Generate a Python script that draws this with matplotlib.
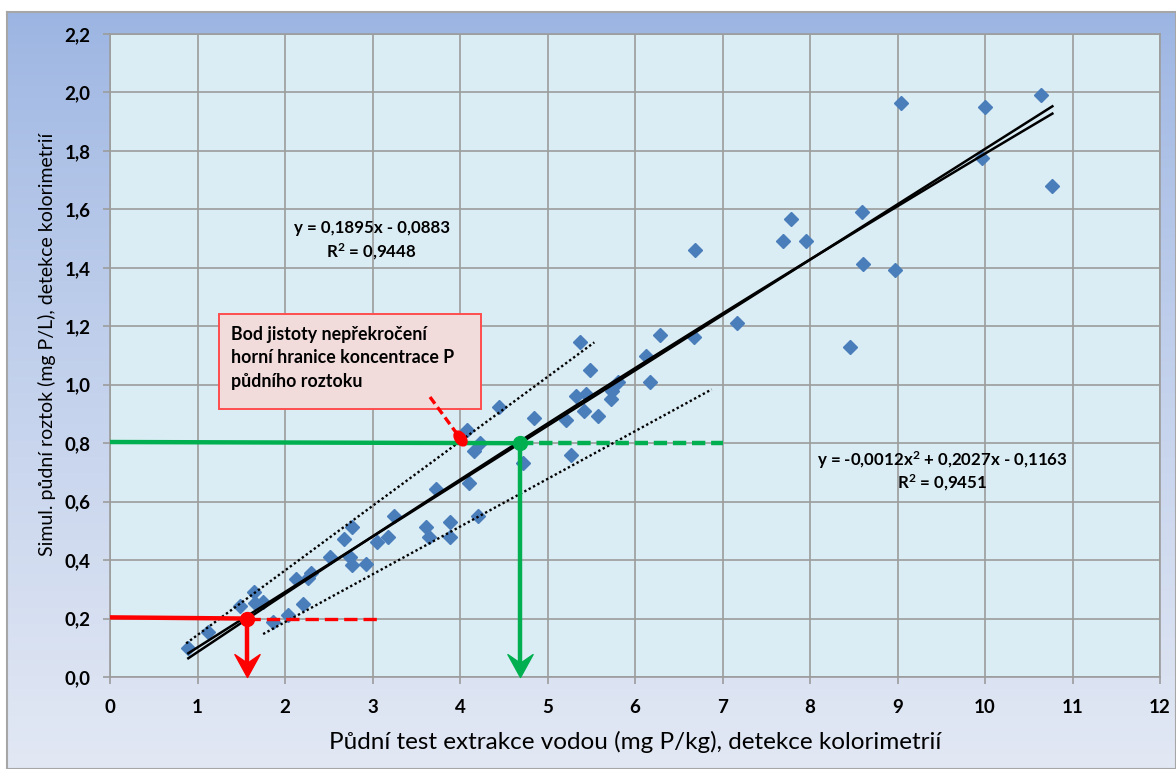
import numpy as np
import matplotlib
matplotlib.use("Agg")
import matplotlib.pyplot as plt
from matplotlib.markers import MarkerStyle
from matplotlib.transforms import Affine2D
from matplotlib.path import Path
from matplotlib.patches import Rectangle

# ---------------- data ----------------
x_vals = [0.895, 1.12, 1.49, 1.646, 1.657, 1.745, 1.867, 2.038, 2.20, 2.12, 2.26, 2.30,
          2.514, 2.674, 2.76, 2.74, 2.77, 2.93, 3.05, 3.18, 3.25, 3.61, 3.64, 3.73,
          3.88, 3.89, 4.107, 4.20, 4.08, 4.16, 4.23, 4.45, 4.84, 4.72, 5.27, 5.21,
          5.37, 5.49, 5.33, 5.44, 5.42, 5.58, 5.73, 5.74, 5.80, 6.12, 6.17, 6.29,
          6.67, 7.16, 6.68, 7.69, 7.78, 7.95, 8.46, 8.59, 8.60, 8.975, 9.04, 10.0,
          9.97, 10.64, 10.77]
y_vals = [0.098, 0.155, 0.243, 0.290, 0.254, 0.258, 0.187, 0.212, 0.250, 0.334, 0.340, 0.355,
          0.410, 0.471, 0.512, 0.412, 0.383, 0.385, 0.463, 0.478, 0.551, 0.512, 0.478, 0.644,
          0.529, 0.480, 0.663, 0.551, 0.845, 0.774, 0.800, 0.925, 0.885, 0.731, 0.759, 0.879,
          1.147, 1.050, 0.961, 0.968, 0.910, 0.893, 0.950, 0.980, 1.010, 1.100, 1.010, 1.170,
          1.164, 1.210, 1.461, 1.492, 1.567, 1.493, 1.128, 1.590, 1.414, 1.391, 1.963, 1.951,
          1.777, 1.992, 1.680]

lin_coef = [0.1895, -0.0883]            # y = a x + b
poly_coef = [-0.0012, 0.2027, -0.1163]  # y = a x^2 + b x + c
lin_eq = "y = 0,1895x - 0,0883"
lin_r2 = "R$^2$ = 0,9448"
poly_eq = "y = -0,0012x$^2$ + 0,2027x - 0,1163"
poly_r2 = "R$^2$ = 0,9451"

# confidence band (dotted) end points
upper_band_x = [0.87, 5.535]
upper_band_y = [0.115, 1.145]
lower_band_x = [1.75, 6.876]
lower_band_y = [0.147, 0.984]

# threshold construction
green_y = 0.80
green_x = 4.69
green_dash_end = 7.0
red_y = 0.20
red_x = 1.57
red_dash_end = 3.07

x_ticks = list(range(0, 13))
y_ticks = [0.0, 0.2, 0.4, 0.6, 0.8, 1.0, 1.2, 1.4, 1.6, 1.8, 2.0, 2.2]
y_tick_labels = ["0,0", "0,2", "0,4", "0,6", "0,8", "1,0", "1,2", "1,4", "1,6", "1,8", "2,0", "2,2"]

x_label = "Půdní test extrakce vodou (mg P/kg), detekce kolorimetrií"
y_label = "Simul. půdní roztok (mg P/L), detekce kolorimetrií"
note_lines = ["Bod jistoty nepřekročení", "horní hranice koncentrace P", "půdního roztoku"]

FONT = ["Lato", "DejaVu Sans"]
plt.rcParams["font.family"] = FONT
plt.rcParams["mathtext.fontset"] = "custom"
plt.rcParams["mathtext.rm"] = "Lato:bold"
plt.rcParams["mathtext.it"] = "Lato:bold"
plt.rcParams["mathtext.bf"] = "Lato:bold"

W, H = 1176, 769
fig = plt.figure(figsize=(W / 100, H / 100), dpi=100)
fig.patch.set_facecolor("white")

# background gradient panel
bg = fig.add_axes([7 / W, 0, 1 - 7 / W, 1 - 12 / H])
grad = np.linspace(0, 1, 256).reshape(-1, 1)
top = np.array([0x9b, 0xb4, 0xe2]) / 255
bot = np.array([0xe2, 0xe8, 0xf4]) / 255
g = grad ** 0.8
img = top[None, None, :] * (1 - g[:, :, None]) + bot[None, None, :] * g[:, :, None]
bg.imshow(img, aspect="auto", extent=[0, 1, 0, 1], origin="upper")
bg.set_xticks([]); bg.set_yticks([])
for s in bg.spines.values():
    s.set_color("#a6a6a6"); s.set_linewidth(1.5)
bg.set_zorder(0)

# main axes
L, R, T, B = 110, 1160, 34, 677
ax = fig.add_axes([L / W, 1 - B / H, (R - L) / W, (B - T) / H])
ax.set_zorder(1)
ax.set_facecolor("#dbedf4")
ax.set_xlim(0, 12)
ax.set_ylim(0, 2.2)
ax.set_xticks(x_ticks)
ax.set_xticklabels([str(t) for t in x_ticks])
ax.set_yticks(y_ticks)
ax.set_yticklabels(y_tick_labels)
ax.grid(True, color="#9c9c9c", linewidth=1.2)
ax.set_axisbelow(True)
for s in ax.spines.values():
    s.set_color("#9c9c9c"); s.set_linewidth(1.2)
ax.tick_params(axis="both", length=5, color="#9c9c9c", width=1.2, labelsize=13.5)
ax.tick_params(axis="y", pad=9)
ax.tick_params(axis="x", pad=11)
for lab in ax.get_xticklabels() + ax.get_yticklabels():
    lab.set_fontweight("bold")

# scatter
ax.plot(x_vals, y_vals, linestyle="none", marker="D", ms=6.8,
        color="#4a7ebb", zorder=3)

# trend lines over the data range
xs = np.linspace(min(x_vals), max(x_vals), 200)
ax.plot(xs, np.polyval(lin_coef, xs), color="black", lw=1.8, zorder=4)
ax.plot(xs, np.polyval(poly_coef, xs), color="black", lw=1.8, zorder=4)

# dotted bands
ax.plot(upper_band_x, upper_band_y, color="black", lw=1.7, linestyle=(0, (1, 1.1)), zorder=4)
ax.plot(lower_band_x, lower_band_y, color="black", lw=1.7, linestyle=(0, (1, 1.1)), zorder=4)

GREEN = "#00b050"
RED = "#ff0000"
head = Path([(0, 0), (-0.55, 1.0), (0, 0.62), (0.55, 1.0), (0, 0)],
            [Path.MOVETO, Path.LINETO, Path.LINETO, Path.LINETO, Path.CLOSEPOLY])

# green construction
ax.plot([0, green_x], [green_y + 0.004, green_y], color=GREEN, lw=3.2, zorder=5,
        solid_capstyle="butt")
ax.plot([green_x, green_dash_end], [green_y, green_y], color=GREEN, lw=3.2,
        linestyle=(0, (3, 1.3)), zorder=5)
ax.plot([green_x, green_x], [green_y, 0.05], color=GREEN, lw=3.2, zorder=5)
ax.plot([green_x], [0.0], marker=head, ms=33, color=GREEN, zorder=6, clip_on=False)
ax.plot([green_x], [green_y], marker="o", ms=10, color=GREEN, zorder=6)

# red construction
ax.plot([0, red_x], [red_y + 0.004, red_y], color=RED, lw=3.2, zorder=5)
ax.plot([red_x, red_dash_end], [red_y, red_y], color=RED, lw=2.4,
        linestyle=(0, (4, 1.8)), zorder=5)
ax.plot([red_x, red_x], [red_y, 0.05], color=RED, lw=3.2, zorder=5)
ax.plot([red_x], [0.0], marker=head, ms=33, color=RED, zorder=6, clip_on=False)
ax.plot([red_x], [red_y], marker="o", ms=10, color=RED, zorder=6)

# annotation box
ax.add_patch(Rectangle((1.246, 0.917), 4.236 - 1.246, 1.241 - 0.917,
                       facecolor="#f2dcdb", edgecolor="#ff4d4d", lw=1.4, zorder=7))
for i, line in enumerate(note_lines):
    ax.text(1.383, 1.172 - i * 0.08, line, fontsize=12.8, fontweight="bold",
            ha="left", va="center", color="black", zorder=8)
ax.plot([3.657, 4.0], [0.958, 0.818], color=RED, lw=2.4, linestyle=(0, (2.5, 1.3)), zorder=7)
oval = MarkerStyle("o", transform=Affine2D().scale(1.5, 0.95).rotate_deg(-54))
ax.plot([4.0], [0.818], marker=oval, ms=8, color=RED, zorder=7)

# equations
ax.text(2.99, 1.536, lin_eq, fontsize=12.2, fontweight="bold", ha="center",
        va="center", zorder=8)
ax.text(2.99, 1.454, lin_r2, fontsize=12.2, fontweight="bold", ha="center",
        va="center", zorder=8)
ax.text(9.51, 0.742, poly_eq, fontsize=12.2, fontweight="bold", ha="center",
        va="center", zorder=8)
ax.text(9.51, 0.664, poly_r2, fontsize=12.2, fontweight="bold", ha="center",
        va="center", zorder=8)

# axis titles
fig.text(635 / W, 1 - 742 / H, x_label, fontsize=17.5, ha="center", va="center")
fig.text(47 / W, 1 - 344 / H, y_label, fontsize=14, ha="center", va="center", rotation=90)

fig.savefig("out.png", dpi=100, facecolor="white")
